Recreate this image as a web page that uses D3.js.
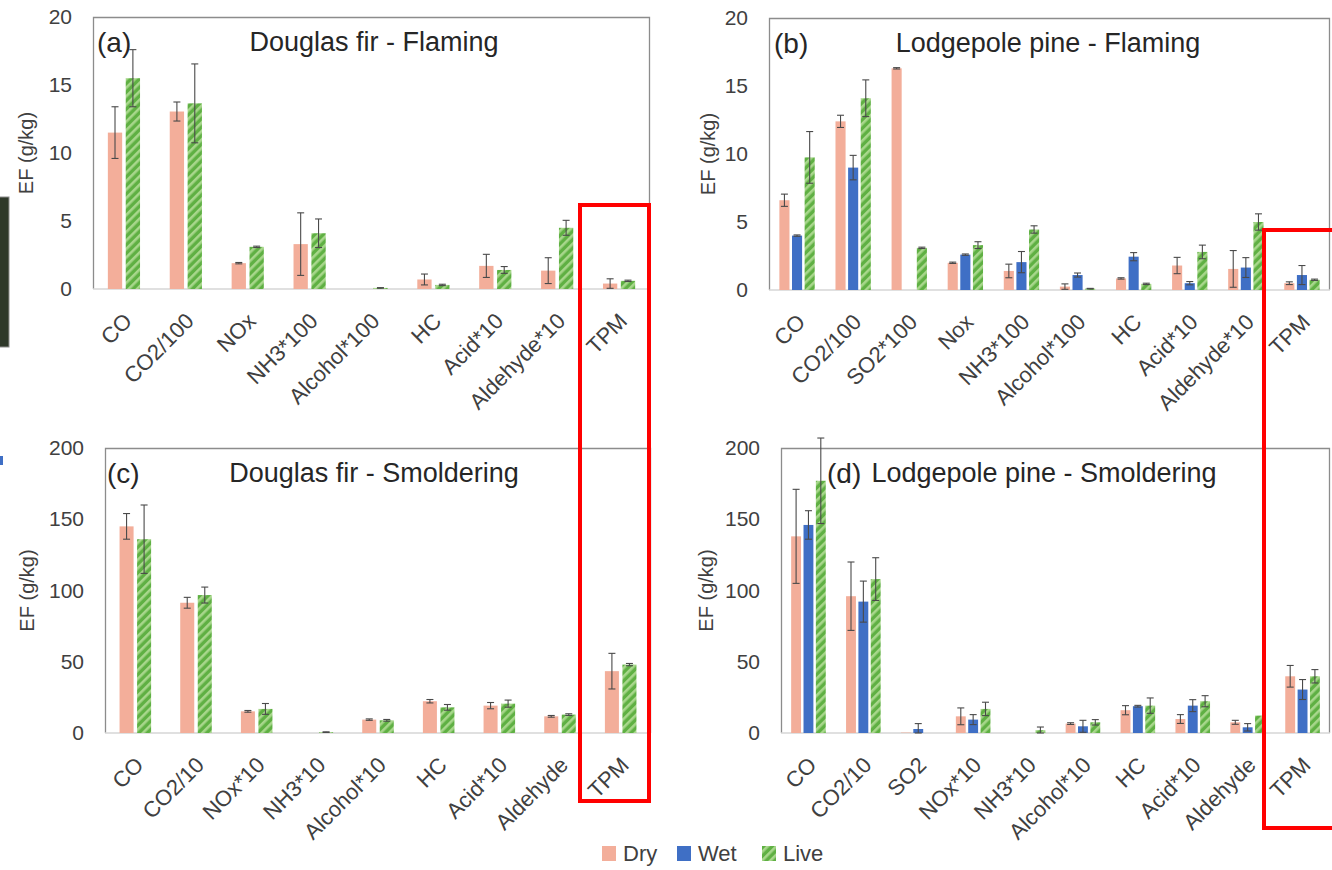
<!DOCTYPE html>
<html>
<head>
<meta charset="utf-8">
<script src="https://cdn.jsdelivr.net/npm/d3@7/dist/d3.min.js"></script>
<style>
  body { margin: 0; background: #fff; }
  svg { display: block; }
  text { font-family: "Liberation Sans", Arial, sans-serif; }
</style>
</head>
<body>
<svg id="fig" width="1332" height="870"></svg>
<script>
// ---------- data ----------
const seriesNames = ["Dry", "Wet", "Live"];

// (a) Douglas fir - Flaming
const catsA = ["CO", "CO2/100", "NOx", "NH3*100", "Alcohol*100", "HC", "Acid*10", "Aldehyde*10", "TPM"];
const dryA     = [11.5, 13.05, 1.9, 3.3, 0, 0.7, 1.7, 1.35, 0.4];
const dryErrA  = [1.9, 0.7, 0.05, 2.3, 0, 0.4, 0.85, 0.95, 0.35];
const liveA    = [15.5, 13.65, 3.1, 4.1, 0.08, 0.3, 1.4, 4.5, 0.6];
const liveErrA = [2.1, 2.9, 0.05, 1.05, 0.02, 0.05, 0.25, 0.55, 0.05];

// (b) Lodgepole pine - Flaming
const catsB = ["CO", "CO2/100", "SO2*100", "Nox", "NH3*100", "Alcohol*100", "HC", "Acid*10", "Aldehyde*10", "TPM"];
const dryB     = [6.6, 12.4, 16.3, 2.0, 1.4, 0.25, 0.85, 1.8, 1.55, 0.5];
const dryErrB  = [0.45, 0.45, 0.05, 0.05, 0.5, 0.2, 0.05, 0.6, 1.35, 0.1];
const wetB     = [4.0, 9.0, 0, 2.6, 2.05, 1.1, 2.45, 0.5, 1.65, 1.1];
const wetErrB  = [0.05, 0.9, 0, 0.05, 0.78, 0.15, 0.3, 0.12, 0.73, 0.7];
const liveB    = [9.75, 14.1, 3.1, 3.3, 4.45, 0.1, 0.45, 2.8, 5.0, 0.75];
const liveErrB = [1.9, 1.35, 0.05, 0.25, 0.27, 0.02, 0.05, 0.5, 0.6, 0.05];

// (c) Douglas fir - Smoldering
const catsC = ["CO", "CO2/10", "NOx*10", "NH3*10", "Alcohol*10", "HC", "Acid*10", "Aldehyde", "TPM"];
const dryC     = [145, 91.4, 15.2, 0, 9.4, 22.3, 19.2, 11.7, 43.4];
const dryErrC  = [9, 3.8, 0.6, 0, 0.5, 1.2, 2.2, 0.6, 12.5];
const liveC    = [136, 96.8, 16.9, 0.6, 8.9, 18.0, 20.6, 12.9, 48.0];
const liveErrC = [24, 5.6, 3.8, 0.2, 0.6, 2.0, 2.5, 0.6, 0.8];

// (d) Lodgepole pine - Smoldering
const catsD = ["CO", "CO2/10", "SO2", "NOx*10", "NH3*10", "Alcohol*10", "HC", "Acid*10", "Aldehyde", "TPM"];
const dryD     = [138, 96, 0.3, 11.7, 0, 6.6, 16, 9.8, 7.5, 39.8];
const dryErrD  = [33, 24, 0, 5.9, 0, 0.6, 3.2, 3.1, 1.4, 7.6];
const wetD     = [146, 92.2, 2.8, 9.4, 0, 4.7, 18.8, 19.2, 4.0, 30.5];
const wetErrD  = [10, 14.4, 3.8, 3.5, 0, 4.2, 0.6, 4.2, 2.6, 7];
const liveD    = [177, 108, 0, 16.9, 2.0, 7.5, 19.2, 22.3, 12.2, 39.8];
const liveErrD = [30, 15, 0, 4.7, 2.2, 1.9, 5.4, 3.9, 0, 4.7];

const ticksFlaming = [0, 5, 10, 15, 20];
const ticksSmolder = [0, 50, 100, 150, 200];
const yTitle = "EF (g/kg)";

// ---------- styling ----------
const colors = { Dry: "#F3AE9A", Wet: "#3F6FC5", Live: "url(#liveHatch)" };
const fontStack = '"Liberation Sans", Arial, sans-serif';

const svg = d3.select("#fig");
const defs = svg.append("defs");
const hatch = defs.append("pattern")
  .attr("id", "liveHatch").attr("patternUnits", "userSpaceOnUse")
  .attr("width", 6).attr("height", 6)
  .attr("patternTransform", "rotate(45)");
hatch.append("rect").attr("width", 6).attr("height", 6).attr("fill", "#5FB043");
hatch.append("rect").attr("width", 2.6).attr("height", 6).attr("fill", "#A8D78C");

// panel layout
const panels = [
  { tag: "(a)", title: "Douglas fir - Flaming", cats: catsA, yMax: 20, ticks: ticksFlaming,
    series: [["Dry", dryA, dryErrA], ["Live", liveA, liveErrA]],
    left: 93, right: 650, top: 17, zero: 289, tagX: 97, titleX: 374, titleY: 42, yTitleX: 26 },
  { tag: "(b)", title: "Lodgepole pine - Flaming", cats: catsB, yMax: 20, ticks: ticksFlaming,
    series: [["Dry", dryB, dryErrB], ["Wet", wetB, wetErrB], ["Live", liveB, liveErrB]],
    left: 769, right: 1330, top: 18, zero: 290, tagX: 774, titleX: 1048, titleY: 43, yTitleX: 708 },
  { tag: "(c)", title: "Douglas fir - Smoldering", cats: catsC, yMax: 200, ticks: ticksSmolder,
    series: [["Dry", dryC, dryErrC], ["Live", liveC, liveErrC]],
    left: 105, right: 651, top: 448, zero: 733, tagX: 107, titleX: 374, titleY: 473, yTitleX: 27 },
  { tag: "(d)", title: "Lodgepole pine - Smoldering", cats: catsD, yMax: 200, ticks: ticksSmolder,
    series: [["Dry", dryD, dryErrD], ["Wet", wetD, wetErrD], ["Live", liveD, liveErrD]],
    left: 781, right: 1330, top: 448, zero: 733, tagX: 827, titleX: 1044, titleY: 473, yTitleX: 706 }
];

panels.forEach(p => {
  const g = svg.append("g");
  const x = d3.scaleBand().domain(p.cats).range([p.left, p.right]).paddingInner(0).paddingOuter(0);
  const y = d3.scaleLinear().domain([0, p.yMax]).range([p.zero, p.top]);
  const names = p.series.map(s => s[0]);
  const groupFrac = names.length === 2 ? 0.52 : 0.63;
  const gw = x.bandwidth() * groupFrac;
  const inner = d3.scaleBand().domain(names).range([-gw / 2, gw / 2]).paddingInner(0.2).paddingOuter(0);

  // frame (top, left, right)
  g.append("path")
    .attr("d", `M${p.left + 0.5},${p.zero}V${p.top + 0.5}H${p.right - 0.5}V${p.zero}`)
    .attr("fill", "none").attr("stroke", "#8C8C8C").attr("stroke-width", 1.3);

  // zero axis line
  g.append("line")
    .attr("x1", p.left).attr("x2", p.right).attr("y1", y(0)).attr("y2", y(0))
    .attr("stroke", "#D6D6D6").attr("stroke-width", 1.5);

  // y axis labels
  const ya = g.append("g").attr("transform", `translate(${p.left},0)`)
    .call(d3.axisLeft(y).tickValues(p.ticks).tickSize(0).tickPadding(21));
  ya.select(".domain").remove();
  ya.selectAll("text").attr("font-size", 21).attr("fill", "#404040")
    .style("font-family", fontStack);

  // x category labels
  const xa = g.append("g").attr("transform", `translate(0,${p.zero})`)
    .call(d3.axisBottom(x).tickSize(0));
  xa.select(".domain").remove();
  xa.selectAll("text")
    .attr("font-size", 22).attr("fill", "#404040")
    .style("font-family", fontStack)
    .attr("text-anchor", "end").attr("x", 0).attr("y", 0).attr("dy", "0.35em")
    .attr("transform", "translate(4,28) rotate(-45)");

  // bars + error bars
  p.series.forEach(([name, vals, errs]) => {
    const data = p.cats.map((c, i) => ({ c, v: vals[i], e: errs[i] }));
    const sx = d => x(d.c) + x.bandwidth() / 2 + inner(name);
    g.append("g").selectAll("rect").data(data.filter(d => d.v > 0)).join("rect")
      .attr("x", sx).attr("width", inner.bandwidth())
      .attr("y", d => y(d.v)).attr("height", d => y(0) - y(d.v))
      .attr("fill", colors[name]);
    const eg = g.append("g").attr("stroke", "#4A4A4A").attr("stroke-width", 1.1).attr("fill", "none");
    data.filter(d => d.v > 0 && d.e > 0).forEach(d => {
      const cx = sx(d) + inner.bandwidth() / 2;
      const lo = y(Math.max(0, d.v - d.e)), hi = y(d.v + d.e);
      eg.append("line").attr("x1", cx).attr("x2", cx).attr("y1", lo).attr("y2", hi);
      eg.append("line").attr("x1", cx - 3.5).attr("x2", cx + 3.5).attr("y1", hi).attr("y2", hi);
      eg.append("line").attr("x1", cx - 3.5).attr("x2", cx + 3.5).attr("y1", lo).attr("y2", lo);
    });
  });

  // panel tag and title
  g.append("text").attr("x", p.tagX).attr("y", p.titleY).attr("dy", "0.35em")
    .attr("font-size", 28).attr("fill", "#262626").text(p.tag);
  g.append("text").attr("x", p.titleX).attr("y", p.titleY).attr("dy", "0.35em")
    .attr("text-anchor", "middle").attr("font-size", 27).attr("fill", "#262626").text(p.title);

  // y axis title
  g.append("text")
    .attr("transform", `translate(${p.yTitleX},${(p.top + p.zero) / 2}) rotate(-90)`)
    .attr("text-anchor", "middle").attr("dy", "0.35em")
    .attr("font-size", 20).attr("fill", "#404040").text(yTitle);
});

// legend
const legend = svg.append("g");
const legendX = [602, 677, 762];
seriesNames.forEach((n, i) => {
  legend.append("rect").attr("x", legendX[i]).attr("y", 846).attr("width", 14).attr("height", 15)
    .attr("fill", colors[n]);
  legend.append("text").attr("x", legendX[i] + 21).attr("y", 853.5).attr("dy", "0.35em")
    .attr("font-size", 22).attr("fill", "#404040").text(n);
});

// highlight boxes around the TPM columns
svg.append("rect").attr("x", 580).attr("y", 205).attr("width", 69).attr("height", 596)
  .attr("fill", "none").attr("stroke", "#FF0000").attr("stroke-width", 4);
svg.append("rect").attr("x", 1264).attr("y", 230).attr("width", 80).attr("height", 598)
  .attr("fill", "none").attr("stroke", "#FF0000").attr("stroke-width", 4);

// edge fragments on the left margin
svg.append("rect").attr("x", -1).attr("y", 197).attr("width", 10).attr("height", 150)
  .attr("fill", "#2E3829").attr("stroke", "#8C8C8C").attr("stroke-width", 1);
svg.append("rect").attr("x", 0).attr("y", 456).attr("width", 3).attr("height", 9).attr("fill", "#3F6FC5");
</script>
</body>
</html>
